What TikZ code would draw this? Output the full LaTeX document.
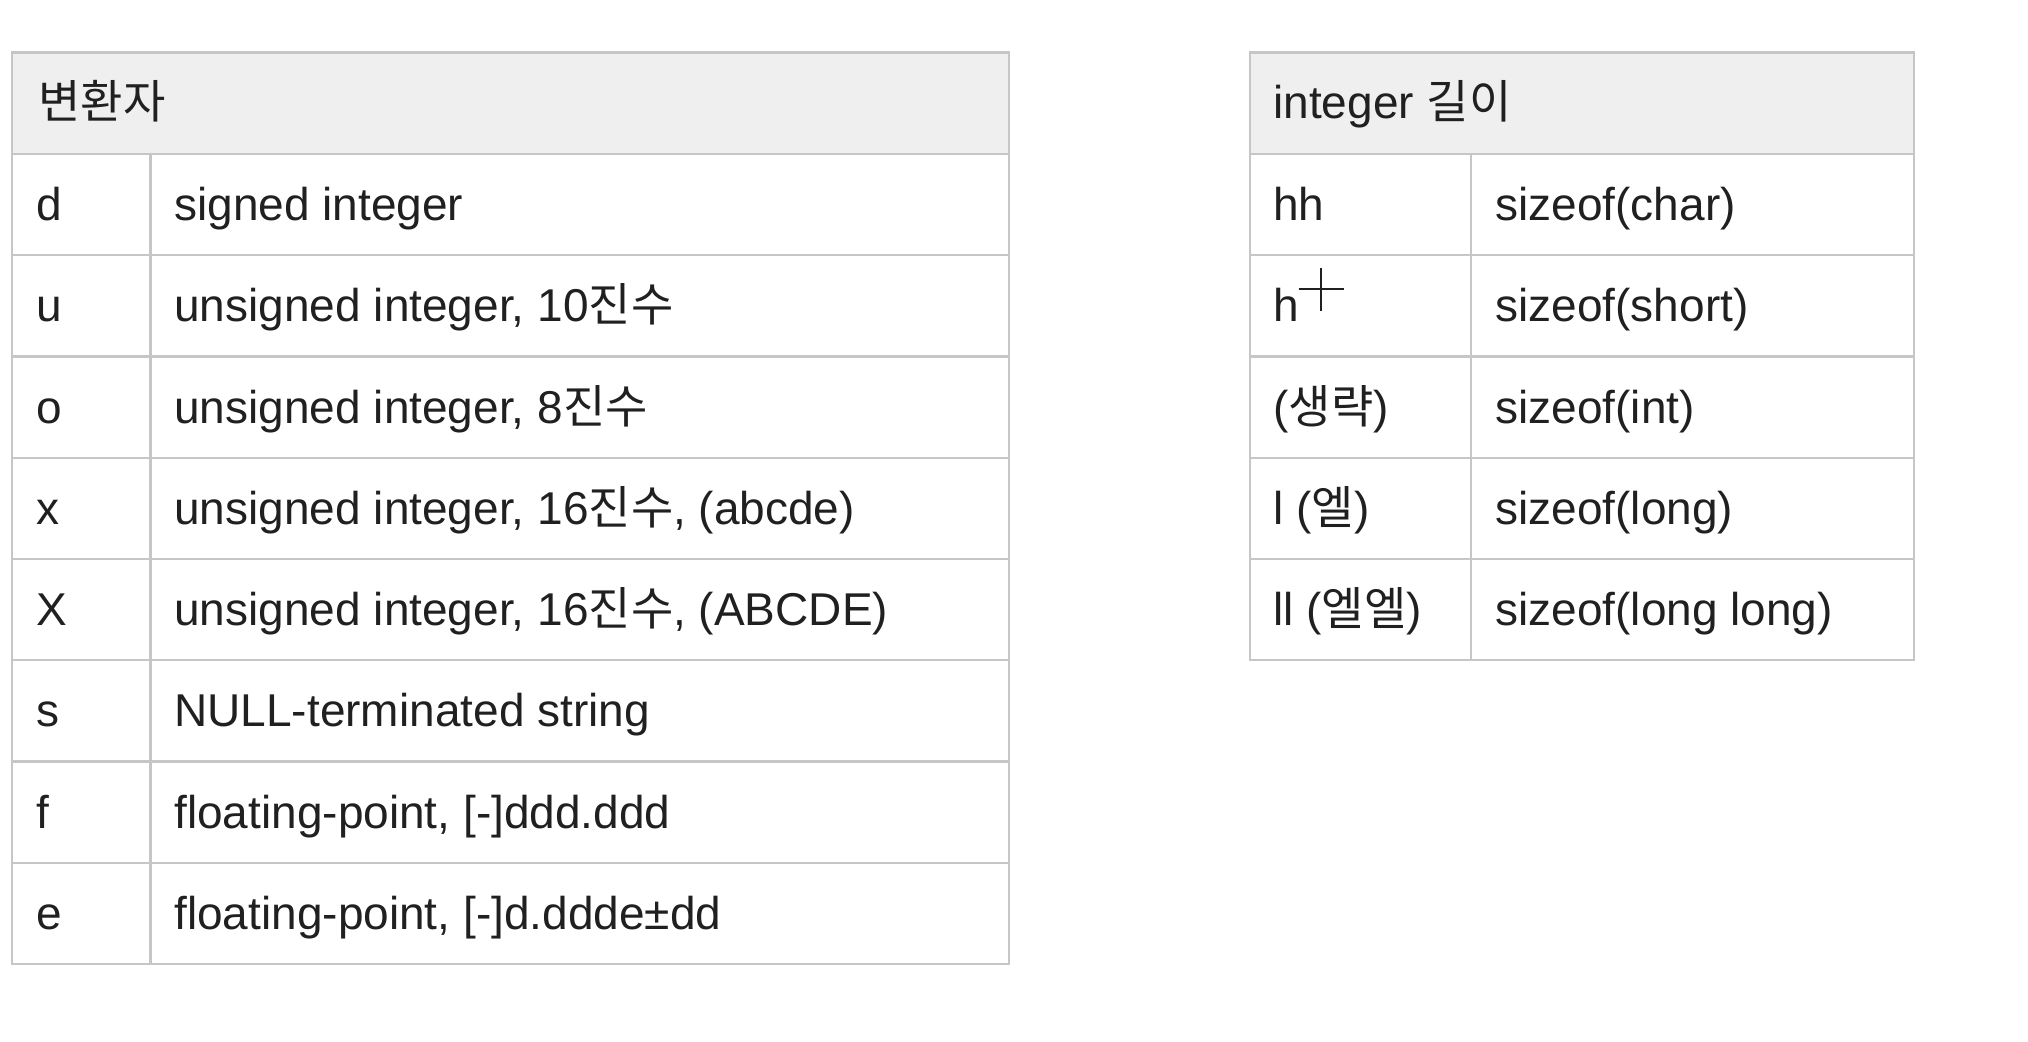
\documentclass[tikz,border=0pt]{standalone}
\usepackage{fontspec}
\setmainfont{Liberation Sans}
\newfontfamily\kr{Noto Sans CJK KR}
\definecolor{gridgray}{HTML}{C6C6C6}
\definecolor{headgray}{HTML}{EFEFF0}
\definecolor{ink}{HTML}{202020}
\tikzset{
  cell/.style={anchor=base west, inner sep=0pt, text=ink, font=\fontsize{23}{28}\selectfont},
  rule/.style={draw=gridgray, line width=1.1pt},
}

\begin{document}
\begin{tikzpicture}[x=0.5pt, y=-0.5pt]
    \useasboundingbox (0,0) rectangle (2028,1042);

    % header fills
    \fill[headgray] (12,52.5) rectangle (1009,154);
    \fill[headgray] (1250,52.5) rectangle (1914,154);

    % left table rules
    \foreach \i in {0,...,8}
        \draw[rule] (12,{154+\i*101.25}) -- (1009,{154+\i*101.25});
    \draw[rule] (12,52.5) rectangle (1009,964);
    \draw[rule] (150.5,154) -- (150.5,964);

    % right table rules
    \foreach \i in {0,...,5}
        \draw[rule] (1250,{154+\i*101.25}) -- (1914,{154+\i*101.25});
    \draw[rule] (1250,52.5) rectangle (1914,660.25);
    \draw[rule] (1471,154) -- (1471,660.25);

    % headers
    \node[cell] (lhead) at (38,119) {{\kr 변환자}};
    \node[cell] (rhead) at (1273,119) {integer {\kr 길이}};

    % left table rows
    \foreach \k/\v [count=\i] in {d/{signed integer},
            u/{unsigned integer, 10{\kr 진수}},
            o/{unsigned integer, 8{\kr 진수}},
            x/{unsigned integer, 16{\kr 진수}, (abcde)},
            X/{unsigned integer, 16{\kr 진수}, (ABCDE)},
            s/{NULL-terminated string},
            f/{floating-point, [-]ddd.ddd},
            e/{floating-point, [-]d.ddde±dd}}
    {
        \node[cell] (lk\i) at (36,{154+(\i-0.5)*101.25+16}) {\k};
        \node[cell] (lv\i) at (174,{154+(\i-0.5)*101.25+16}) {\v};
    }

    % right table rows
    \foreach \k/\v [count=\i] in {{hh}/{sizeof(char)},
            {h}/{sizeof(short)},
            {({\kr 생략})}/{sizeof(int)},
            {l ({\kr 엘})}/{sizeof(long)},
            {ll ({\kr 엘엘})}/{sizeof(long long)}}
    {
        \node[cell] (rk\i) at (1273,{154+(\i-0.5)*101.25+16}) {\k};
        \node[cell] (rv\i) at (1495,{154+(\i-0.5)*101.25+16}) {\v};
    }

    % cursor cross next to h
    \draw[ink, line width=1pt] (1298.5,289) -- (1343.5,289);
    \draw[ink, line width=1pt] (1321,268) -- (1321,311);
\end{tikzpicture}
\end{document}
